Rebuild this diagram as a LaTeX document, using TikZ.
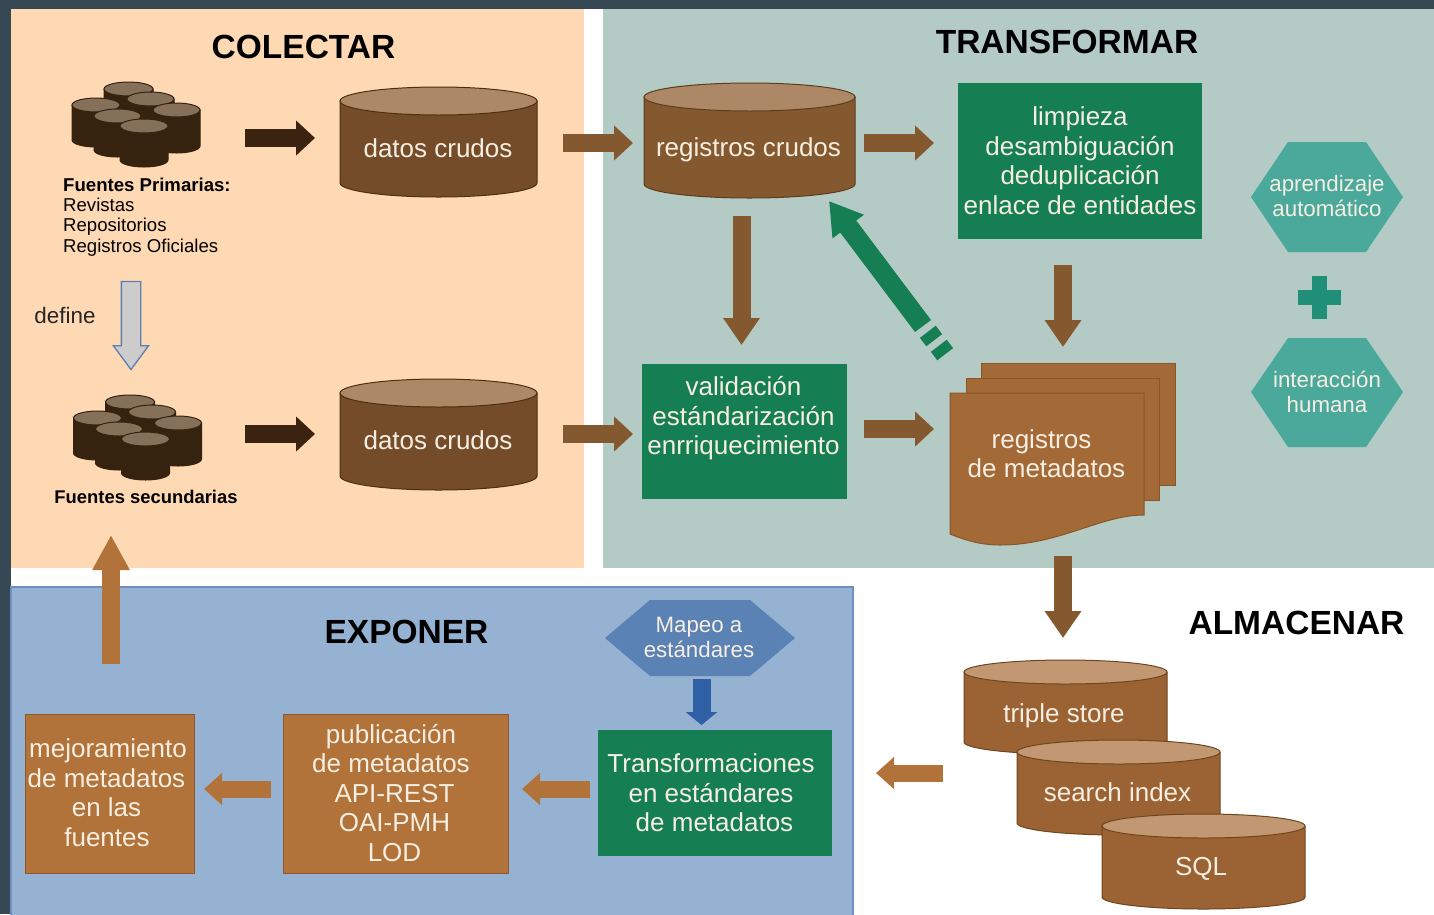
\documentclass[tikz,border=0pt]{standalone}
\usepackage{fontspec}
\setmainfont{Liberation Sans}
\usetikzlibrary{arrows.meta,shapes.geometric,shapes.arrows}
\definecolor{slate}{HTML}{364853}
\definecolor{peach}{HTML}{FFD9B3}
\definecolor{sage}{HTML}{B3CAC5}
\definecolor{steel}{HTML}{95B2D2}
\definecolor{steeledge}{HTML}{6F8FBF}
\definecolor{defedge}{HTML}{5B7FB0}
\definecolor{deffill}{HTML}{CCCCCC}
\definecolor{gbox}{HTML}{167E53}
\definecolor{teal}{HTML}{4AA99A}
\definecolor{tealplus}{HTML}{1F8F78}
\definecolor{hexblue}{HTML}{5B82B4}
\definecolor{arrblue}{HTML}{2F5FA5}
\definecolor{arrdark}{HTML}{3A2410}
\definecolor{arrbrown}{HTML}{85592F}
\definecolor{arrlight}{HTML}{B1733A}
\definecolor{boxbrown}{HTML}{B1733A}
\definecolor{boxedge}{HTML}{8E5A2C}
\definecolor{docbrown}{HTML}{A36A38}
\definecolor{docedge}{HTML}{8A5629}
\definecolor{txtlight}{HTML}{F7EEE2}
\definecolor{clbody}{HTML}{35220F}
\definecolor{cltop}{HTML}{85705A}
\definecolor{crbody}{HTML}{754C29}
\definecolor{crtop}{HTML}{AC8866}
\definecolor{credge}{HTML}{4E2F12}
\definecolor{stbody}{HTML}{9B6333}
\definecolor{sttop}{HTML}{C19872}
\definecolor{stedge}{HTML}{6F4520}
\tikzset{
  x=1pt,y=-1pt,
  lbl/.style={text=txtlight,align=center,inner sep=0pt,font=\fontsize{26}{29.5}\selectfont},
  hexlbl/.style={text=txtlight,align=center,inner sep=0pt,font=\fontsize{22.3}{24.5}\selectfont},
  title/.style={text=black,inner sep=0pt,font=\fontsize{33.5}{36}\selectfont\bfseries},
  srclbl/.style={text=black,align=left,inner sep=0pt,anchor=north west,font=\fontsize{18.6}{20.5}\selectfont},
  greenbox/.style={fill=gbox},
  brownbox/.style={fill=boxbrown,draw=boxedge,line width=1pt},
  docsheet/.style={fill=docbrown,draw=docedge,line width=1pt},
  blockdark/.style={draw=arrdark,line width=18pt,-{Triangle[width=34pt,length=19pt,fill=arrdark]}},
  blockbrown/.style={draw=arrbrown,line width=18pt,-{Triangle[width=34pt,length=19pt,fill=arrbrown]}},
  blockdown/.style={draw=arrbrown,line width=18pt,-{Triangle[width=35pt,length=27pt,fill=arrbrown]}},
  blocklight/.style={draw=arrlight,line width=17pt,-{Triangle[width=31pt,length=18pt,fill=arrlight]}},
  blockup/.style={draw=arrlight,line width=18pt,-{Triangle[width=35pt,length=35pt,fill=arrlight]}},
  blockblue/.style={draw=arrblue,line width=18pt,-{Triangle[width=31pt,length=13pt,fill=arrblue]}},
  blockgreen/.style={draw=gbox,line width=20pt,-{Triangle[width=37pt,length=32pt,fill=gbox]}},
  dashgreen/.style={draw=gbox,line width=20pt},
}
% name, x1, x2, top-centre y, bottom-centre y, ry, body, top, edge
\newcommand{\dbcyl}[9]{%
  \pgfmathsetmacro{\cylrx}{(#3-#2)/2}%
  \pgfmathsetmacro{\cylcx}{(#3+#2)/2}%
  \draw[fill=#7,draw=#9,line width=1pt] (#2,#4) -- (#2,#5)
     arc[start angle=180,end angle=360,x radius=\cylrx pt,y radius=#6 pt] -- (#3,#4) -- cycle;
  \draw[fill=#8,draw=#9,line width=1pt] (\cylcx,#4) ellipse[x radius=\cylrx pt,y radius=#6 pt];
  \coordinate (#1) at (\cylcx,#4);
}
% six-drum cluster, offset dx dy
\newcommand{\cluster}[3]{%
  \begin{scope}[shift={(#2,#3)}]
    \dbcyl{#1a}{104}{153}{89}{113}{7}{clbody}{cltop}{clbody}
    \dbcyl{#1b}{127}{174}{99}{125}{7}{clbody}{cltop}{clbody}
    \dbcyl{#1c}{72}{120}{105}{140}{7}{clbody}{cltop}{clbody}
    \dbcyl{#1d}{153}{200}{110}{146}{7}{clbody}{cltop}{clbody}
    \dbcyl{#1e}{94}{141}{116}{150}{7}{clbody}{cltop}{clbody}
    \dbcyl{#1f}{120}{168}{126}{160}{7}{clbody}{cltop}{clbody}
  \end{scope}
}
\begin{document}
\begin{tikzpicture}
\useasboundingbox (0,0) rectangle (1434,914);
\fill[slate] (0,0) rectangle (1434,914);
\fill[white] (11,9) rectangle (1434,914);
\fill[peach] (11,9) rectangle (584,568);
\fill[sage] (603,9) rectangle (1434,568);
\draw[fill=steel,draw=steeledge,line width=1.2pt] (11,587) rectangle (853,916);

% titles
\node[title] (tcol) at (303.5,47) {COLECTAR};
\node[title] (ttra) at (1067,41.5) {TRANSFORMAR};
\node[title] (texp) at (406.5,632) {EXPONER};
\node[title] (talm) at (1296.5,622.5) {ALMACENAR};

% sources
\cluster{sa}{0}{0}
\cluster{sb}{1.5}{313}
\node[srclbl] (fp) at (63,177.5) {\textbf{Fuentes Primarias:}\\[-0.6pt]Revistas\\Repositorios\\Registros Oficiales};
\node[text=black,inner sep=0pt,font=\fontsize{18.4}{20}\selectfont\bfseries] (fs) at (146,497) {Fuentes secundarias};
\node[text=black!85,inner sep=0pt,font=\fontsize{22.4}{24}\selectfont] (def) at (65,315) {define};
\node[single arrow,draw=defedge,fill=deffill,line width=1.3pt,rotate=-90,
      minimum height=88pt,minimum width=34pt,single arrow head extend=8pt,
      single arrow tip angle=73,inner xsep=0pt,inner ysep=9pt] (defarrow) at (131,319) {};

% raw-data drums
\dbcyl{dc1}{340}{537}{101}{183}{14}{crbody}{crtop}{credge}
\node[lbl] (dc1t) at (438,148) {datos crudos};
\dbcyl{dc2}{340}{537}{393}{476}{14}{crbody}{crtop}{credge}
\node[lbl] (dc2t) at (438,440) {datos crudos};
\dbcyl{rc}{644}{855}{97}{184}{14}{arrbrown}{crtop}{credge!70!arrbrown}
\node[lbl] (rct) at (748.5,149.5) {registros crudos};

% green boxes
\fill[greenbox] (958,83) rectangle (1202,239);
\node[lbl] (limp) at (1080,160.5) {limpieza\\desambiguación\\deduplicación\\enlace de entidades};
\fill[greenbox] (642,364) rectangle (847,499);
\node[lbl] (vali) at (743.5,418.5) {validación\\estándarización\\enrriquecimiento};
\fill[greenbox] (598,730) rectangle (832,856);
\node[lbl] (tran) at (711,793) {Transformaciones\\en estándares\\\hspace*{7pt}de metadatos};

% hexagons
\fill[teal] (1251,197) -- (1288,142) -- (1366,142) -- (1403,197) -- (1366,252) -- (1288,252) -- cycle;
\node[hexlbl] (apr) at (1327,196) {aprendizaje\\automático};
\fill[teal] (1251,392) -- (1288,338) -- (1366,338) -- (1403,392) -- (1366,447) -- (1288,447) -- cycle;
\node[hexlbl] (int) at (1327,392) {interacción\\humana};
\fill[tealplus] (1312,276) rectangle (1327,319);
\fill[tealplus] (1298,290) rectangle (1341,305);
\fill[hexblue] (605,638) -- (650,600) -- (750,600) -- (795,638) -- (750,676) -- (650,676) -- cycle;
\node[hexlbl] (map) at (699,637.5) {Mapeo a\\estándares};

% metadata stack
\draw[docsheet] (981,363) rectangle (1175,485);
\draw[docsheet] (966,378) rectangle (1159,500);
\draw[docsheet] (950,393) -- (1144,393) -- (1144,515)
   .. controls (1100,515) and (1060,545) .. (1000,545)
   .. controls (980,545) and (965,540) .. (950,534) -- cycle;
\node[lbl,align=center] (regm) at (1046.5,453.5) {registros\hspace*{10pt}\\de metadatos};

% storage
\dbcyl{ts}{964}{1167}{672}{742}{12}{stbody}{sttop}{stedge}
\node[lbl] (tst) at (1064,716) {triple store};
\dbcyl{si}{1017}{1220}{752}{823}{12}{stbody}{sttop}{stedge}
\node[lbl] (sit) at (1117.5,792) {search index};
\dbcyl{sq}{1102}{1305}{826}{897}{12}{stbody}{sttop}{stedge}
\node[lbl] (sqt) at (1201,869) {SQL};

% expose boxes
\draw[brownbox] (283,714) rectangle (508,873);
\node[lbl] (pub) at (391,793) {publicación\\de metadatos\\\hspace*{7pt}API-REST\\\hspace*{7pt}OAI-PMH\\\hspace*{7pt}LOD};
\draw[brownbox] (25,714) rectangle (194,873);
\node[lbl] (mej) at (106.5,792.5) {\hspace*{3pt}mejoramiento\\de metadatos\\en las\\\hspace*{1pt}fuentes};

% connector ends
\coordinate (a1s) at (245,138);  \coordinate (a1e) at (315,138);
\coordinate (a2s) at (245,434);  \coordinate (a2e) at (315,434);
\coordinate (b1s) at (563,143);  \coordinate (b1e) at (633,143);
\coordinate (b2s) at (563,434);  \coordinate (b2e) at (633,434);
\coordinate (b3s) at (864,143);  \coordinate (b3e) at (934,143);
\coordinate (b4s) at (864,429);  \coordinate (b4e) at (934,429);
\coordinate (d1s) at (741.5,216);\coordinate (d1e) at (741.5,345);
\coordinate (d2s) at (1063,265);\coordinate (d2e) at (1063,347);
\coordinate (d3s) at (1063,556);\coordinate (d3e) at (1063,638);
\coordinate (l1s) at (943,773);  \coordinate (l1e) at (876,773);
\coordinate (l2s) at (590,789);  \coordinate (l2e) at (522,789);
\coordinate (l3s) at (271,789);  \coordinate (l3e) at (204,789);
\coordinate (ups) at (111,664);  \coordinate (upe) at (111,535);
\coordinate (bls) at (701.5,679);\coordinate (ble) at (701.5,725);
\coordinate (grs) at (923,326);  \coordinate (gre) at (829,201);
\coordinate (g1s) at (927.8,331.8); \coordinate (g1e) at (934.2,340.2);
\coordinate (g2s) at (938.8,345.8); \coordinate (g2e) at (945.2,354.2);

\draw[blockdark] (a1s) -- (a1e);
\draw[blockdark] (a2s) -- (a2e);
\draw[blockbrown] (b1s) -- (b1e);
\draw[blockbrown] (b2s) -- (b2e);
\draw[blockbrown] (b3s) -- (b3e);
\draw[blockbrown] (b4s) -- (b4e);
\draw[blockdown] (d1s) -- (d1e);
\draw[blockdown] (d2s) -- (d2e);
\draw[blockdown] (d3s) -- (d3e);
\draw[blocklight] (l1s) -- (l1e);
\draw[blocklight] (l2s) -- (l2e);
\draw[blocklight] (l3s) -- (l3e);
\draw[blockup] (ups) -- (upe);
\draw[blockblue] (bls) -- (ble);
\draw[blockgreen] (grs) -- (gre);
\draw[dashgreen] (g1s) -- (g1e);
\draw[dashgreen] (g2s) -- (g2e);
\end{tikzpicture}
\end{document}
